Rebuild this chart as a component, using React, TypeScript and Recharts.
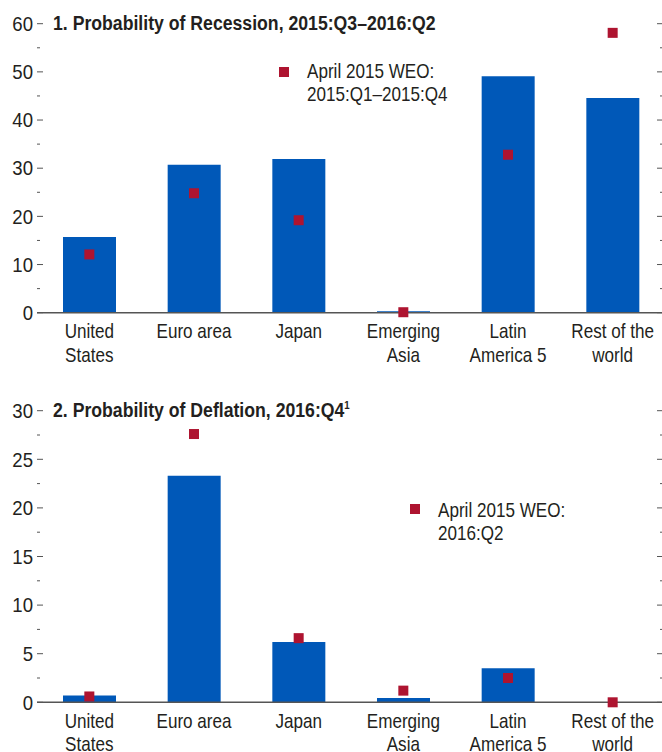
import React from "react"
import { ComposedChart, Bar, Scatter, XAxis, YAxis, Legend, Customized } from "recharts"

// categories (line breaks as in the source labels)
const categories = ["United\nStates", "Euro area", "Japan", "Emerging\nAsia", "Latin\nAmerica 5", "Rest of the\nworld"]

// panel 1: probability of recession, 2015:Q3–2016:Q2
const recessionCurrent = [15.7, 30.7, 31.9, 0.3, 49.1, 44.6]
const recessionApril = [12.1, 24.8, 19.2, 0.1, 32.8, 58.1]
const recessionMajorTicks = [0, 10, 20, 30, 40, 50, 60]
const recessionMinorTicks = [5, 15, 25, 35, 45, 55]

// panel 2: probability of deflation, 2016:Q4
const deflationCurrent = [0.7, 23.3, 6.2, 0.45, 3.5, 0]
const deflationApril = [0.6, 27.6, 6.6, 1.2, 2.5, 0]
const deflationMajorTicks = [0, 5, 10, 15, 20, 25, 30]
const deflationMinorTicks = [2.5, 7.5, 12.5, 17.5, 22.5, 27.5]

const FONT = "'Liberation Sans', Arial, sans-serif"
const TEXT = "#231f20"
const BLUE = "#0058b8"
const RED = "#ae1430"
const AXIS = "#555555"
const CHART_W = 665

// the source uses a condensed face; squeeze Liberation Sans horizontally
const NARROW = 0.855
const NARROW_NUM = 0.93
const NARROW_BOLD = 0.883

const buildRows = (current: number[], april: number[]) =>
  categories.map((name, i) => ({ name, current: current[i], april: april[i] }))

const SquareDot = (props: any) => {
  const { cx, cy } = props
  if (cx == null || cy == null) return null
  return <rect x={cx - 5} y={cy - 5} width={10} height={10} fill={RED} />
}

const makeYTick = (major: number[]) => (props: any) => {
  const { x, y, payload } = props
  const isMajor = major.includes(payload.value)
  return (
    <g>
      {isMajor && (
        <text
          transform={`translate(${x - 4} ${y}) scale(${NARROW_NUM} 1)`}
          dy="0.36em"
          textAnchor="end"
          fontSize={20}
          fontFamily={FONT}
          fill={TEXT}
        >
          {payload.value}
        </text>
      )}
      <line x1={x} x2={x + (isMajor ? 6 : 3)} y1={y} y2={y} stroke={AXIS} strokeWidth={1} />
      <line x1={CHART_W - (isMajor ? 8 : 5)} x2={CHART_W} y1={y} y2={y} stroke={AXIS} strokeWidth={1} />
    </g>
  )
}

const XTick = (props: any) => {
  const { x, y, payload } = props
  const lines = String(payload.value).split("\n")
  return (
    <text
      transform={`translate(${x} ${y + 25.5}) scale(${NARROW} 1)`}
      textAnchor="middle"
      fontSize={20}
      fontFamily={FONT}
      fill={TEXT}
    >
      {lines.map((l, i) => (
        <tspan key={i} x={0} dy={i === 0 ? 0 : 23.5}>
          {l}
        </tspan>
      ))}
    </text>
  )
}

interface PanelProps {
  title: string
  sup?: string
  current: number[]
  april: number[]
  major: number[]
  minor: number[]
  legendLines: string[]
  legendPos: { left: number; top: number; box: number; base: number }
  height: number
  plotTop: number
  plotBottom: number
}

function Panel({ title, sup, current, april, major, minor, legendLines, legendPos, height, plotTop, plotBottom }: PanelProps) {
  const data = buildRows(current, april)
  const ticks = [...major, ...minor].sort((a, b) => a - b)
  const max = major[major.length - 1]

  const legendContent = () => (
    <svg width={260} height={60} style={{ display: "block" }}>
      <rect x={0} y={legendPos.box} width={10} height={10} fill={RED} />
      <text
        transform={`translate(28 ${legendPos.base}) scale(${NARROW} 1)`}
        fontSize={20}
        fontFamily={FONT}
        fill={TEXT}
      >
        {legendLines.map((l, i) => (
          <tspan key={i} x={0} dy={i === 0 ? 0 : 23.5}>
            {l}
          </tspan>
        ))}
      </text>
    </svg>
  )

  return (
    <ComposedChart
      width={CHART_W}
      height={height}
      data={data}
      margin={{ top: plotTop, right: 0, bottom: 0, left: 0 }}
      barCategoryGap={0}
    >
      <XAxis
        dataKey="name"
        interval={0}
        tickLine={false}
        tickSize={0}
        tickMargin={0}
        height={height - plotBottom}
        axisLine={{ stroke: AXIS, strokeWidth: 1.5 }}
        tick={XTick}
      />
      <YAxis
        width={37}
        domain={[0, max]}
        ticks={ticks}
        interval={0}
        axisLine={false}
        tickLine={false}
        tickSize={0}
        tickMargin={0}
        tick={makeYTick(major)}
      />
      <Bar dataKey="current" fill={BLUE} barSize={53} isAnimationActive={false} />
      <Scatter dataKey="april" name={legendLines.join(" ")} shape={SquareDot} isAnimationActive={false} />
      <Legend
        layout="horizontal"
        verticalAlign="middle"
        align="center"
        content={legendContent}
        wrapperStyle={{ left: legendPos.left, top: legendPos.top, width: 260, height: 60 }}
      />
      <Customized
        component={() => (
          <text
            transform={`translate(53 ${plotTop + 6.5}) scale(${NARROW_BOLD} 1)`}
            fontSize={20}
            fontWeight="bold"
            fontFamily={FONT}
            fill={TEXT}
          >
            {title}
            {sup && (
              <tspan dy={-8} fontSize={11}>
                {sup}
              </tspan>
            )}
          </text>
        )}
      />
    </ComposedChart>
  )
}

export default function App() {
  return (
    <div style={{ position: "absolute", left: 0, top: 0, width: 662, height: 752, overflow: "hidden", background: "#fff" }}>
      <div style={{ position: "absolute", left: 0, top: 0 }}>
        <Panel
          title="1. Probability of Recession, 2015:Q3–2016:Q2"
          current={recessionCurrent}
          april={recessionApril}
          major={recessionMajorTicks}
          minor={recessionMinorTicks}
          legendLines={["April 2015 WEO:", "2015:Q1–2015:Q4"]}
          legendPos={{ left: 279, top: 60, box: 7, base: 18 }}
          height={380}
          plotTop={23.7}
          plotBottom={312.7}
        />
      </div>
      <div style={{ position: "absolute", left: 0, top: 390 }}>
        <Panel
          title="2. Probability of Deflation, 2016:Q4"
          sup="1"
          current={deflationCurrent}
          april={deflationApril}
          major={deflationMajorTicks}
          minor={deflationMinorTicks}
          legendLines={["April 2015 WEO:", "2016:Q2"]}
          legendPos={{ left: 410, top: 104, box: 10, base: 22.7 }}
          height={362}
          plotTop={20.7}
          plotBottom={312.3}
        />
      </div>
    </div>
  )
}
